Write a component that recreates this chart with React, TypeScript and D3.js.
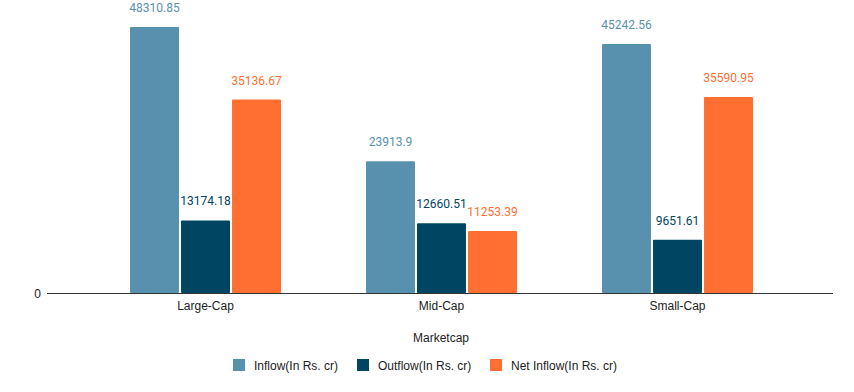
import { useEffect, useRef } from 'react'
import * as d3 from 'd3'

const CATEGORIES = ['Large-Cap', 'Mid-Cap', 'Small-Cap']
const INFLOW = [48310.85, 23913.9, 45242.56]
const OUTFLOW = [13174.18, 12660.51, 9651.61]
const NET_INFLOW = [35136.67, 11253.39, 35590.95]

const SERIES = [
  { key: 'inflow', label: 'Inflow(In Rs. cr)', color: '#5891AD', values: INFLOW },
  { key: 'outflow', label: 'Outflow(In Rs. cr)', color: '#004561', values: OUTFLOW },
  { key: 'net', label: 'Net Inflow(In Rs. cr)', color: '#FF6F31', values: NET_INFLOW },
]

const W = 854
const H = 392
const AXIS_FONT = '"Liberation Sans", Arial, sans-serif'
const LABEL_FONT = 'Roboto, sans-serif'

export default function App() {
  const svgRef = useRef<SVGSVGElement>(null)

  useEffect(() => {
    const svg = d3.select(svgRef.current)
    svg.selectAll('*').remove()

    const x0 = d3.scaleBand<string>().domain(CATEGORIES).range([87.5, 795.5]).paddingInner(0)
    const groupW = 151
    const x1 = d3.scaleBand<string>()
      .domain(SERIES.map(s => s.key))
      .range([(x0.bandwidth() - groupW) / 2, (x0.bandwidth() + groupW) / 2])
      .paddingInner(0.04)
    const y = d3.scaleLinear([0, 48310.85], [293, 27])

    // bars
    SERIES.forEach(s => {
      const g = svg.append('g')
      g.selectAll('rect')
        .data(CATEGORIES)
        .join('rect')
        .attr('x', (c) => x0(c)! + x1(s.key)!)
        .attr('y', (_, i) => y(s.values[i]))
        .attr('width', x1.bandwidth())
        .attr('height', (_, i) => y(0) - y(s.values[i]))
        .attr('fill', s.color)
        .attr('rx', 1)

      g.selectAll('text')
        .data(CATEGORIES)
        .join('text')
        .attr('x', (c) => x0(c)! + x1(s.key)! + x1.bandwidth() / 2)
        .attr('y', (_, i) => y(s.values[i]) - 15)
        .attr('text-anchor', 'middle')
        .attr('font-family', LABEL_FONT)
        .attr('font-size', 12)
        .attr('fill', s.color)
        .text((_, i) => String(s.values[i]))
    })

    // x axis
    svg.append('line')
      .attr('x1', 47).attr('x2', 833).attr('y1', 293.5).attr('y2', 293.5)
      .attr('stroke', '#333').attr('stroke-width', 1)

    svg.append('text')
      .attr('x', 41).attr('y', 297.5)
      .attr('text-anchor', 'end')
      .attr('font-family', AXIS_FONT).attr('font-size', 12).attr('fill', '#222')
      .text('0')

    svg.append('g').selectAll('text')
      .data(CATEGORIES)
      .join('text')
      .attr('x', c => x0(c)! + x0.bandwidth() / 2)
      .attr('y', 310)
      .attr('text-anchor', 'middle')
      .attr('font-family', AXIS_FONT).attr('font-size', 12).attr('fill', '#222')
      .text(c => c)

    svg.append('text')
      .attr('x', 441).attr('y', 342)
      .attr('text-anchor', 'middle')
      .attr('font-family', AXIS_FONT).attr('font-size', 12).attr('fill', '#222')
      .text('Marketcap')

    // legend
    const legendX = [233, 357, 490]
    SERIES.forEach((s, i) => {
      svg.append('rect')
        .attr('x', legendX[i]).attr('y', 359).attr('width', 12).attr('height', 12)
        .attr('fill', s.color)
      svg.append('text')
        .attr('x', legendX[i] + 21).attr('y', 369.5)
        .attr('font-family', AXIS_FONT).attr('font-size', 12).attr('fill', '#222')
        .text(s.label)
    })
  }, [])

  return (
    <svg
      ref={svgRef}
      width={W}
      height={H}
      style={{ position: 'absolute', left: 0, top: 0, background: '#fff' }}
    />
  )
}
